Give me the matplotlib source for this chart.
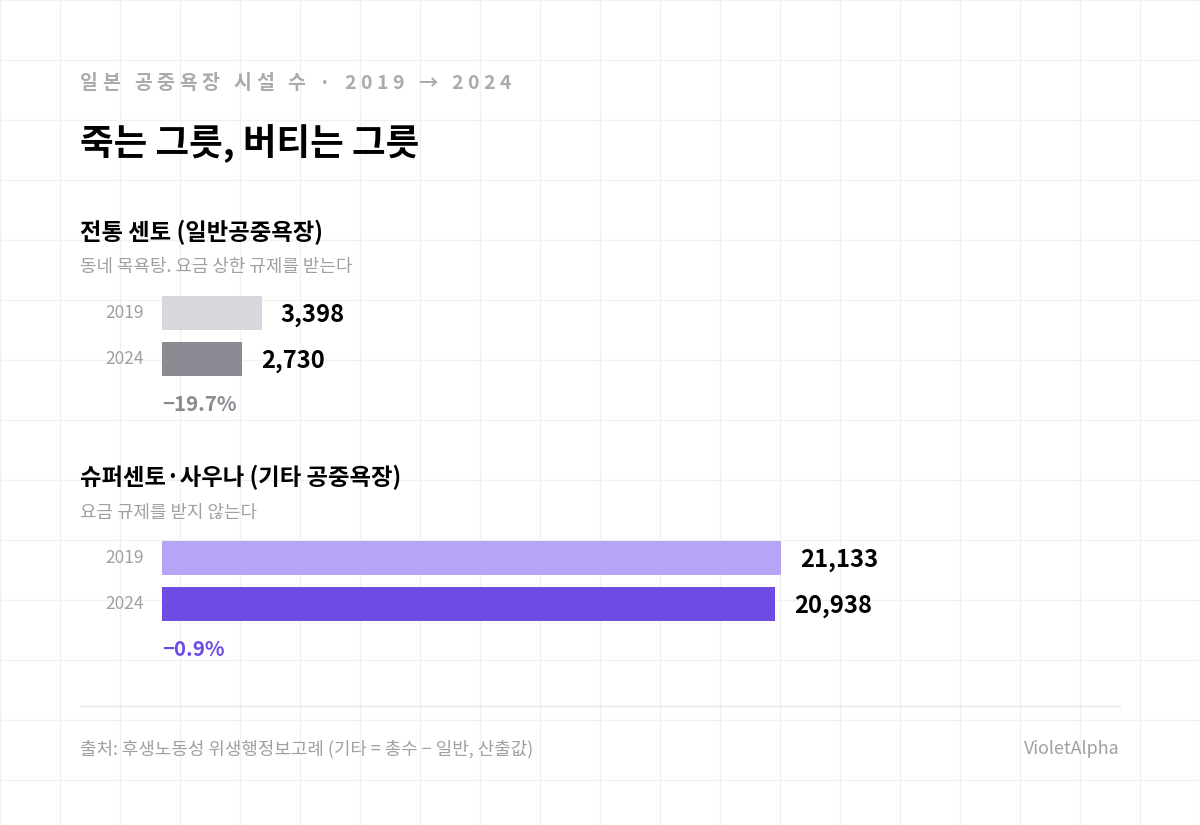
import matplotlib
matplotlib.use("Agg")
import matplotlib.pyplot as plt
from matplotlib.font_manager import FontProperties

plt.rcParams['font.family'] = ['Noto Sans CJK KR', 'DejaVu Sans']

# ---- data ----
years = ["2019", "2024"]
traditional = [3398, 2730]
other = [21133, 20938]
trad_change = "−19.7%"
other_change = "−0.9%"

kicker = "일본 공중욕장 시설 수 · 2019 → 2024"
title = "죽는 그릇, 버티는 그릇"
sec1_title = "전통 센토 (일반공중욕장)"
sec1_desc = "동네 목욕탕. 요금 상한 규제를 받는다"
sec2_title = "슈퍼센토·사우나 (기타 공중욕장)"
sec2_desc = "요금 규제를 받지 않는다"
source = "출처: 후생노동성 위생행정보고례 (기타 = 총수 − 일반, 산출값)"
brand = "VioletAlpha"

W, H = 1200, 825
fig = plt.figure(figsize=(W / 100, H / 100), dpi=100, facecolor="white")

# background axes in pixel coordinates with faint grid
bg = fig.add_axes([0, 0, 1, 1])
bg.set_xlim(0, W)
bg.set_ylim(H, 0)
bg.set_xticks(range(0, W + 1, 60))
bg.set_yticks(range(0, H + 1, 60))
bg.tick_params(length=0, labelbottom=False, labelleft=False)
for s in bg.spines.values():
    s.set_visible(False)
bg.grid(True, color="#f1f1f1", linewidth=1)
bg.set_axisbelow(True)

GRAY_TXT = "#a0a0a0"

# letter-spaced kicker
renderer = fig.canvas.get_renderer()
kprop = FontProperties(family=['Noto Sans CJK KR', 'DejaVu Sans'], size=14, weight='bold')
def tw(s):
    w, h, d = renderer.get_text_width_height_descent(s, kprop, ismath=False)
    return w
ref = tw("|")
full = tw(kicker + "|") - ref
spacing = (431 - full) / (len(kicker) - 1)
x0 = 80
for i, ch in enumerate(kicker):
    adv = tw(kicker[:i] + "|") - ref if i > 0 else 0
    bg.text(x0 + adv + i * spacing, 89, ch, fontproperties=kprop, color="#ababab",
            va="baseline", ha="left")

bg.text(80, 155, title, fontsize=26.3, fontweight="bold", color="#000000", va="baseline", ha="left")

bg.text(80, 240, sec1_title, fontsize=16.8, fontweight="bold", color="#000000", va="baseline")
bg.text(80, 272, sec1_desc, fontsize=12.9, color=GRAY_TXT, va="baseline")
bg.text(80, 485, sec2_title, fontsize=16.8, fontweight="bold", color="#000000", va="baseline")
bg.text(80, 518, sec2_desc, fontsize=12.9, color=GRAY_TXT, va="baseline")

bg.plot([80, 1120], [706, 706], color="#e6e6e6", linewidth=1)
bg.text(80, 754, source, fontsize=12.9, color=GRAY_TXT, va="baseline")
bg.text(1120, 754, brand, fontsize=12.9, color=GRAY_TXT, va="baseline", ha="right")

# bar axes (shared scale)
XMAX = 30000
PX_PER_UNIT = 619 / 21133.0
ax_w_px = XMAX * PX_PER_UNIT
ROW = 46

def bar_axes(top_px):
    left = 162 / W
    bottom = (H - (top_px + 2 * ROW)) / H
    ax = fig.add_axes([left, bottom, ax_w_px / W, 2 * ROW / H])
    ax.set_xlim(0, XMAX)
    ax.set_ylim(1.5, -0.5)
    ax.axis("off")
    ax.patch.set_alpha(0)
    return ax

def draw_section(top_px, values, colors, change, change_color):
    ax = bar_axes(top_px)
    ypos = list(range(len(values)))
    ax.barh(ypos, values, height=34 / ROW, color=colors, left=0)
    for y, v, lab in zip(ypos, values, years):
        ax.annotate(f"{v:,}", xy=(v, y), xytext=(13.5, -1.2), textcoords="offset points",
                    fontsize=17.1, fontweight="bold", color="#000000",
                    va="center", ha="left", annotation_clip=False)
        ax.annotate(lab, xy=(0, y), xytext=(-13, 0), textcoords="offset points",
                    fontsize=12.5, color=GRAY_TXT, va="center", ha="right",
                    annotation_clip=False)
    ax.text(0, 1.99, change, fontsize=14.7, fontweight="bold", color=change_color,
            va="center", ha="left", clip_on=False)
    return ax

draw_section(290, traditional, ["#d8d7dd", "#8b8a92"], trad_change, "#8b8a92")
draw_section(535, other, ["#b6a5f4", "#6e4ce3"], other_change, "#6e4ce3")

fig.savefig("out.png", dpi=100, facecolor="white")
